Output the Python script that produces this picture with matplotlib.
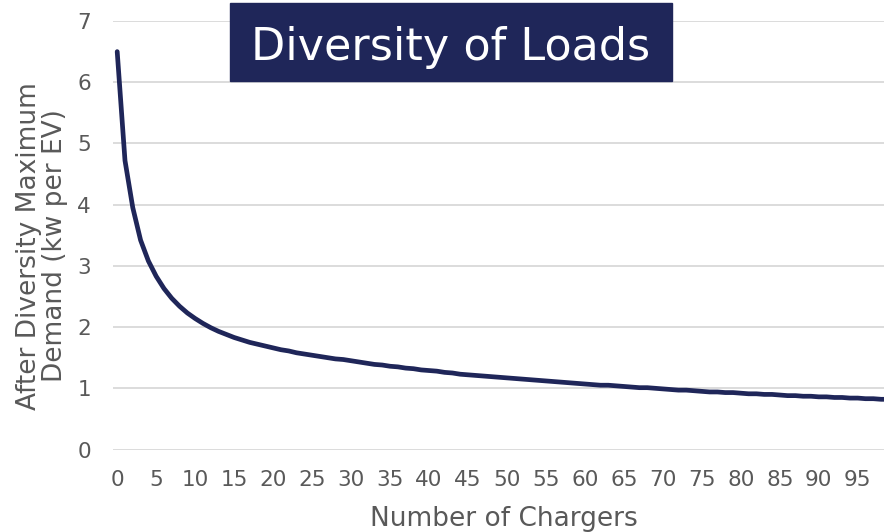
import matplotlib
matplotlib.use('Agg')
import matplotlib.pyplot as plt
from matplotlib.patches import Rectangle

plt.rcParams['font.family'] = ['DejaVu Sans']

# data (kW per EV after diversity, one value per charger count)
chargers = list(range(0, 100))
admd = [6.50, 4.72, 3.95, 3.42, 3.08, 2.83, 2.63, 2.47, 2.34, 2.23,
        2.14, 2.06, 1.99, 1.93, 1.88, 1.83, 1.79, 1.75, 1.72, 1.69,
        1.66, 1.63, 1.61, 1.58, 1.56, 1.54, 1.52, 1.50, 1.48, 1.47,
        1.45, 1.43, 1.41, 1.39, 1.38, 1.36, 1.35, 1.33, 1.32, 1.30,
        1.29, 1.28, 1.26, 1.25, 1.23, 1.22, 1.21, 1.20, 1.19, 1.18,
        1.17, 1.16, 1.15, 1.14, 1.13, 1.12, 1.11, 1.10, 1.09, 1.08,
        1.07, 1.06, 1.05, 1.05, 1.04, 1.03, 1.02, 1.01, 1.01, 1.00,
        0.99, 0.98, 0.97, 0.97, 0.96, 0.95, 0.94, 0.94, 0.93, 0.93,
        0.92, 0.91, 0.91, 0.90, 0.90, 0.89, 0.88, 0.88, 0.87, 0.87,
        0.86, 0.86, 0.85, 0.85, 0.84, 0.84, 0.83, 0.83, 0.82, 0.82]
x_ticks = list(range(0, 100, 5))
y_ticks = [0, 1, 2, 3, 4, 5, 6, 7]

navy = '#1f2659'
grey_txt = '#595959'
grid_col = '#d9d9d9'

W, H = 884, 532
ax_l, ax_top, ax_bot = 113.3, 21, 449.5
fig = plt.figure(figsize=(W / 100, H / 100), dpi=100)
ax = fig.add_axes([ax_l / W, (H - ax_bot) / H, 1 - ax_l / W, (ax_bot - ax_top) / H])
ax_w, ax_h = W - ax_l, ax_bot - ax_top

ax.plot(chargers, admd, color=navy, lw=3.4, solid_capstyle='round', zorder=3)

ax.set_xlim(-0.5, 98.37)
ax.set_ylim(0, 7)
ax.set_xticks(x_ticks)
ax.set_yticks(y_ticks)
ax.grid(axis='y', color=grid_col, lw=1.3)
ax.set_axisbelow(True)
for s in ax.spines.values():
    s.set_visible(False)
ax.tick_params(length=0, labelsize=15.5, colors=grey_txt)
ax.tick_params(axis='x', pad=15)
ax.tick_params(axis='y', pad=16)

ax.set_xlabel('Number of Chargers', fontsize=19, color=grey_txt, va='top')
ax.xaxis.set_label_coords((503.5 - ax_l) / ax_w, (ax_bot - 506) / ax_h)
ax.set_ylabel('After Diversity Maximum\nDemand (kw per EV)', fontsize=19, color=grey_txt,
              linespacing=1.0)
ax.yaxis.set_label_coords((68 - ax_l) / ax_w, (ax_bot - 246) / ax_h)

# title banner
fig.patches.append(Rectangle((230 / W, (H - 80.7) / H), 441.7 / W, 77.4 / H,
                             transform=fig.transFigure, color=navy, zorder=5))
fig.text((230 + 671.7) / 2 / W, (H - 60) / H, 'Diversity of Loads', color='white',
         fontsize=32, ha='center', va='baseline', zorder=6)

fig.savefig('out.png', dpi=100)
